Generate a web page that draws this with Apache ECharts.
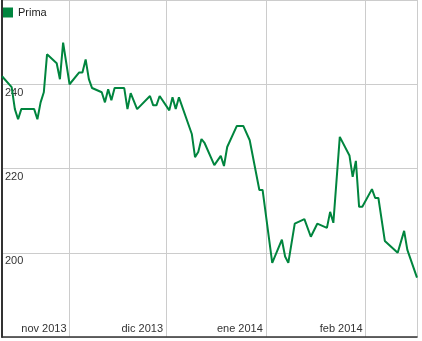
<!DOCTYPE html>
<html>
<head>
<meta charset="utf-8">
<script src="https://cdn.jsdelivr.net/npm/echarts@6/dist/echarts.min.js"></script>
<style>
html,body{margin:0;padding:0;background:#fff;}
#c{width:422px;height:341px;}
</style>
</head>
<body>
<div id="c"></div>
<script>
var seriesName = 'Prima';
var dates = [
 '2013-10-11','2013-10-14','2013-10-15','2013-10-16','2013-10-17','2013-10-21','2013-10-22','2013-10-23','2013-10-24','2013-10-25',
 '2013-10-28','2013-10-29','2013-10-30','2013-11-01','2013-11-04','2013-11-05','2013-11-06','2013-11-07','2013-11-08','2013-11-11',
 '2013-11-12','2013-11-13','2013-11-14','2013-11-15','2013-11-18','2013-11-19','2013-11-20','2013-11-22','2013-11-26','2013-11-27',
 '2013-11-28','2013-11-29','2013-12-02','2013-12-03','2013-12-04','2013-12-05','2013-12-09','2013-12-10','2013-12-11','2013-12-12',
 '2013-12-13','2013-12-16','2013-12-18','2013-12-19','2013-12-20','2013-12-23','2013-12-25','2013-12-27','2013-12-30','2013-12-31',
 '2014-01-03','2014-01-06','2014-01-07','2014-01-08','2014-01-10','2014-01-13','2014-01-15','2014-01-17','2014-01-20','2014-01-21',
 '2014-01-22','2014-01-24','2014-01-27','2014-01-28','2014-01-29','2014-01-30','2014-01-31','2014-02-03','2014-02-04','2014-02-05',
 '2014-02-07','2014-02-11','2014-02-13','2014-02-14','2014-02-17'
];
var values = [
 241.9,239.3,234.1,231.7,234.1,234.1,231.7,235.7,238.1,247.1,
 245.0,241.2,249.9,240.0,242.8,242.8,245.9,241.2,239.1,238.1,
 235.7,238.8,236.2,239.1,239.1,234.1,237.9,234.1,237.2,235.0,
 235.0,237.2,233.8,236.9,234.1,236.9,228.2,222.7,223.9,227.0,
 226.0,220.8,223.0,220.6,225.1,230.1,230.1,226.7,214.9,214.9,
 197.6,203.1,199.1,197.6,206.9,208.0,203.8,206.9,205.9,209.7,
 207.1,227.5,223.1,218.0,221.8,210.9,210.9,215.1,213.0,213.0,
 202.8,200.0,205.2,200.7,194.1
];
var monthNames = ['ene','feb','mar','abr','may','jun','jul','ago','sep','oct','nov','dic'];
var xMin = '2013-10-11';
var xMax = '2014-02-17';
var yMin = 180, yMax = 260, yStep = 20;

var data = dates.map(function(d, i){ return [d, values[i]]; });
var font = 'Liberation Sans, Arial, sans-serif';
var chart = echarts.init(document.getElementById('c'), null, {renderer:'canvas'});
chart.setOption({
  animation: false,
  backgroundColor: '#fff',
  legend: {
    left: 3, top: 7, padding: 0,
    icon: 'rect', itemWidth: 10, itemHeight: 10, itemGap: 5,
    textStyle: {fontFamily: font, fontSize: 11, color: '#222'},
    data: [seriesName]
  },
  grid: {left: 2, right: 5, top: 0, bottom: 4, containLabel: false},
  xAxis: {
    type: 'time',
    min: xMin, max: xMax,
    splitNumber: 4,
    minInterval: 28 * 86400000,
    maxInterval: 31 * 86400000,
    axisLine: {show: true, lineStyle: {color: '#333', width: 1.5}},
    axisTick: {show: false},
    splitLine: {show: true, lineStyle: {color: '#cccccc', width: 1}},
    axisLabel: {
      inside: true, align: 'right', verticalAlign: 'bottom', margin: 3,
      padding: [0, 3, 0, 0],
      showMinLabel: false, showMaxLabel: false,
      fontFamily: font, fontSize: 11, color: '#333',
      formatter: function(v){ var d = new Date(v); return monthNames[d.getMonth()] + ' ' + d.getFullYear(); }
    }
  },
  yAxis: [{
    type: 'value', min: yMin, max: yMax, interval: yStep,
    axisLine: {show: true, lineStyle: {color: '#333', width: 2}},
    axisTick: {show: false},
    splitLine: {show: true, lineStyle: {color: '#cccccc', width: 1}},
    axisLabel: {
      inside: true, align: 'left', verticalAlign: 'top', margin: 3,
      padding: [3, 0, 0, 0],
      showMinLabel: false, showMaxLabel: false,
      fontFamily: font, fontSize: 11, color: '#333'
    }
  },{
    type: 'value', min: yMin, max: yMax, interval: yStep, position: 'right',
    axisLine: {show: true, lineStyle: {color: '#cccccc', width: 1}},
    axisTick: {show: false}, axisLabel: {show: false}, splitLine: {show: false}
  }],
  series: [{
    name: seriesName, type: 'line', data: data,
    showSymbol: false, symbol: 'none',
    lineStyle: {color: '#00853e', width: 2},
    itemStyle: {color: '#00853e'}
  }]
});
</script>
</body>
</html>
